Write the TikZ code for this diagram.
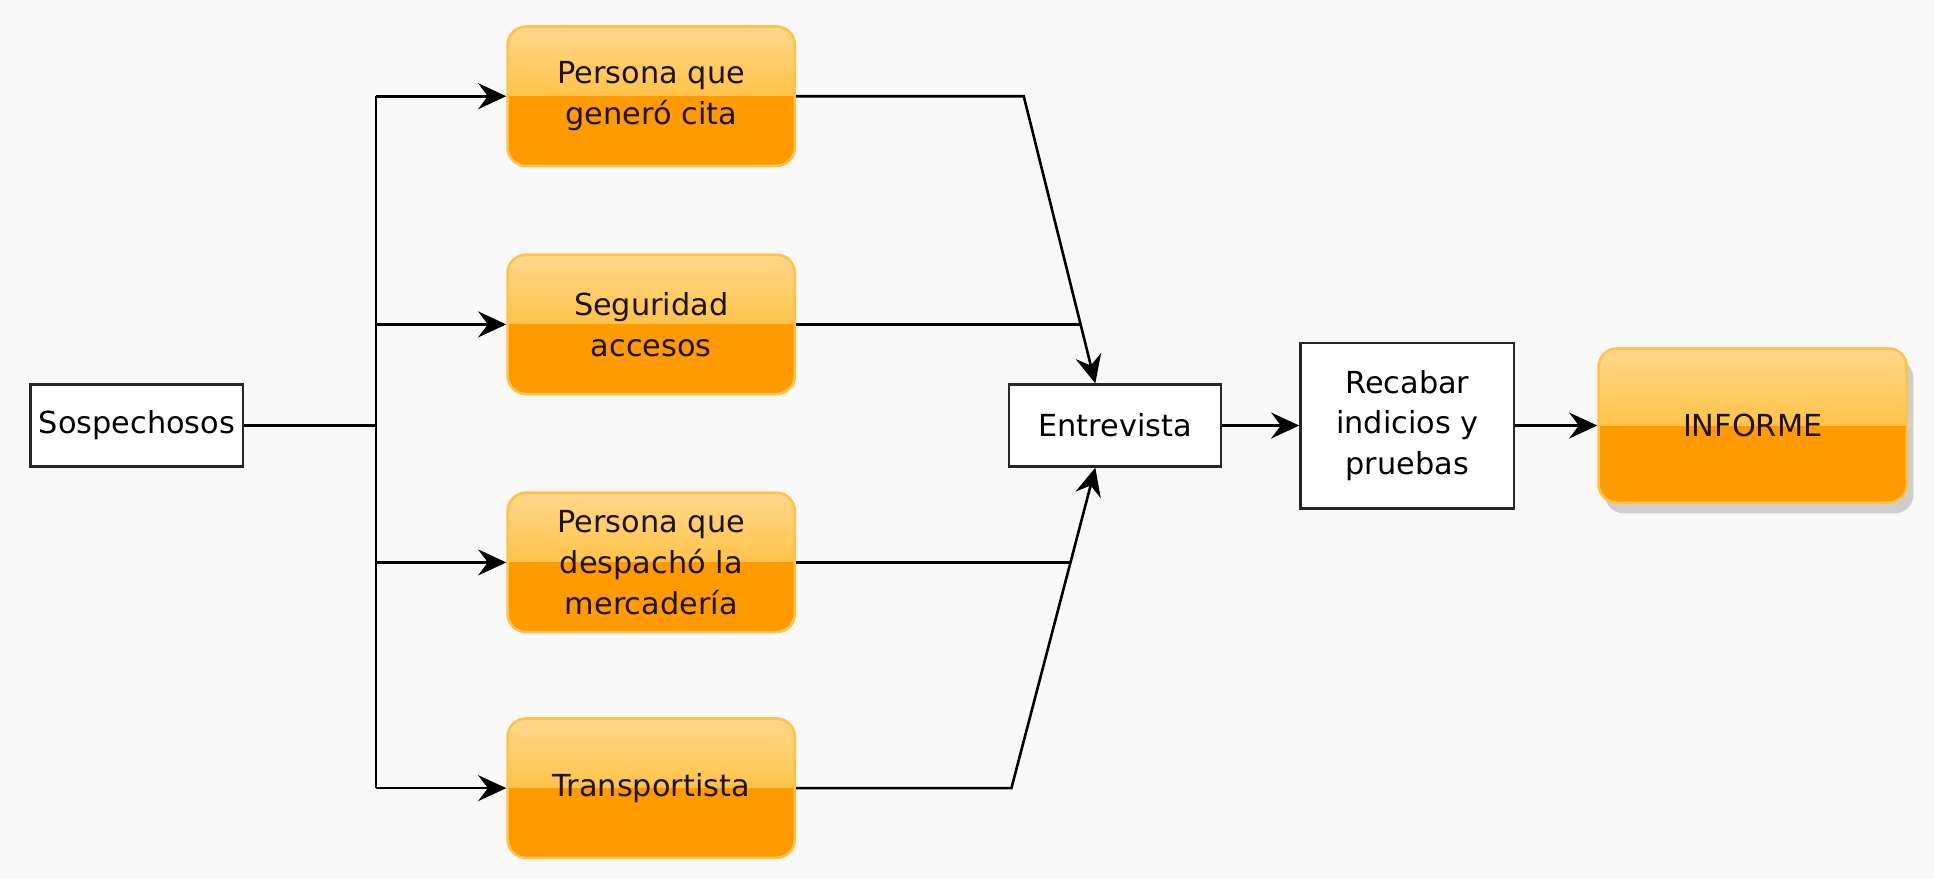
\documentclass[tikz,border=0pt]{standalone}
\usepackage{fontspec}
\setmainfont{DejaVu Sans}
\usetikzlibrary{arrows.meta,shadows,calc}
\definecolor{bgc}{HTML}{F9F9F9}
\definecolor{otop}{HTML}{FFD88C}
\definecolor{omid}{HTML}{FFAE05}
\definecolor{olow}{HTML}{FF9A00}
\definecolor{oedge}{HTML}{FFC24A}
\definecolor{txt}{HTML}{1E1206}
\begin{document}
\begin{tikzpicture}[x=0.02cm,y=-0.02cm,
  font=\fontsize{14}{18.8}\selectfont,
  plainbox/.style={draw=black!85,line width=1.3pt,fill=white,inner sep=0pt,align=center,text=black},
  orangebox/.style={draw=oedge,line width=1.2pt,rounded corners=0.3cm,inner sep=0pt,align=center,text=txt,
    minimum width=4.66cm,minimum height=2.26cm,
    path picture={
      \fill[sharp corners,top color=otop,bottom color=omid] (path picture bounding box.north west) rectangle (path picture bounding box.east);
      \fill[sharp corners,olow] (path picture bounding box.west) rectangle (path picture bounding box.south east);
    }},
  conn/.style={draw=black,line width=1.2pt},
  arr/.style={conn,-{Stealth[length=13pt,width=12pt,inset=4.5pt]}}
]
\fill[bgc] (0,0) rectangle (1568,713);
\useasboundingbox (0,0) rectangle (1568,713);

\node[plainbox,minimum width=3.44cm,minimum height=1.32cm] (sosp) at (111,345) {Sospechosos};
\node[orangebox] (o1) at (528,78) {Persona que\\generó cita};
\node[orangebox] (o2) at (528,263) {Seguridad\\accesos};
\node[orangebox] (o3) at (528,456) {Persona que\\despachó la\\mercadería};
\node[orangebox] (o4) at (528,639) {Transportista};
\node[plainbox,minimum width=3.44cm,minimum height=1.32cm] (entr) at (904,345) {Entrevista};
\node[plainbox,minimum width=3.46cm,minimum height=2.68cm] (rec) at (1141,345) {Recabar\\indicios y\\pruebas};
\node[orangebox,minimum width=5.0cm,minimum height=2.5cm,
  drop shadow={shadow xshift=3pt,shadow yshift=-5pt,fill=black!50,opacity=0.35}] (inf) at (1421,345) {INFORME};

\coordinate (tm) at (305,345);
\coordinate (t1) at (305,78);
\coordinate (t2) at (305,263);
\coordinate (t3) at (305,456);
\coordinate (t4) at (305,639);
\coordinate (b1) at (830,78);
\coordinate (j2) at (876,263);
\coordinate (j3) at (868,456);
\coordinate (b4) at (820,639);

\draw[conn,line width=1.8pt] (sosp.east) -- (tm);
\draw[conn] (t1) -- (t4);
\draw[arr] (t1) -- (o1.west);
\draw[arr] (t2) -- (o2.west);
\draw[arr] (t3) -- (o3.west);
\draw[arr] (t4) -- (o4.west);

\draw[arr] (o1.east) -- (b1) -- ([xshift=-0.32cm]entr.north);
\draw[conn] (o2.east) -- (j2);
\draw[conn] (o3.east) -- (j3);
\draw[arr] (o4.east) -- (b4) -- ([xshift=-0.32cm]entr.south);

\draw[arr] (entr.east) -- (rec.west);
\draw[arr] (rec.east) -- (inf.west);
\end{tikzpicture}
\end{document}
